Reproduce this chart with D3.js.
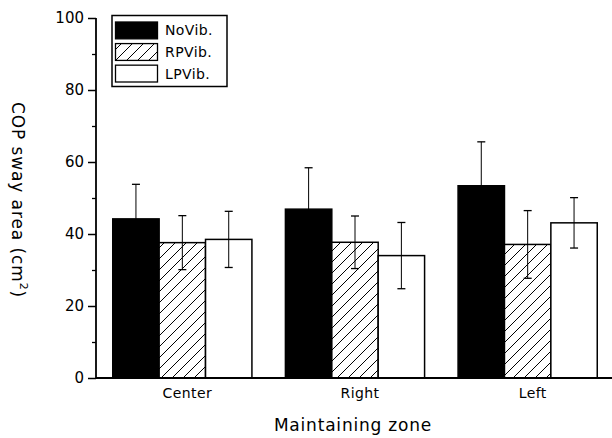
<!DOCTYPE html>
<html>
<head>
<meta charset="utf-8">
<script src="https://cdn.jsdelivr.net/npm/d3@7"></script>
<style>
  html, body { margin: 0; padding: 0; background: #fff; }
  svg { display: block; }
  text { font-family: "DejaVu Sans", sans-serif; fill: #000; }
</style>
</head>
<body>
<script>
const categories = ["Center", "Right", "Left"];
const seriesNames = ["NoVib.", "RPVib.", "LPVib."];
const noVibMean = [44.2, 46.9, 53.4];
const noVibSD   = [9.6, 11.5, 12.2];
const rpVibMean = [37.6, 37.7, 37.1];
const rpVibSD   = [7.5, 7.3, 9.4];
const lpVibMean = [38.5, 34.0, 43.1];
const lpVibSD   = [7.8, 9.2, 7.0];
const yMajorTicks = [0, 20, 40, 60, 80, 100];
const yMinorTicks = [10, 30, 50, 70, 90];
const xTitle = "Maintaining zone";
const yTitle = "COP sway area (cm";

const W = 612, H = 438;
const svg = d3.select("body").append("svg").attr("width", W).attr("height", H);

const defs = svg.append("defs");
const pat = defs.append("pattern").attr("id", "hatch").attr("patternUnits", "userSpaceOnUse")
  .attr("width", 11).attr("height", 11);
pat.append("rect").attr("width", 11).attr("height", 11).attr("fill", "#fff");
pat.append("path").attr("d", "M-1,12 L12,-1 M-6,6 L6,-6 M5,17 L17,5")
  .attr("stroke", "#000").attr("stroke-width", 1);

const fills = ["#000", "url(#hatch)", "#fff"];
const means = [noVibMean, rpVibMean, lpVibMean];
const sds = [noVibSD, rpVibSD, lpVibSD];

const y = d3.scaleLinear().domain([0, 100]).range([378, 18]);
const x0 = d3.scaleBand().domain(categories).range([96, 614]).paddingInner(0.194).paddingOuter(0.097);
const x1 = d3.scaleBand().domain(seriesNames).range([0, x0.bandwidth()]).padding(0);

const data = [];
categories.forEach((c, ci) => {
  seriesNames.forEach((s, si) => {
    data.push({ c, s, si, v: means[si][ci], sd: sds[si][ci] });
  });
});

// bars
const g = svg.append("g");
g.selectAll("rect.bar").data(data).enter().append("rect")
  .attr("class", "bar")
  .attr("x", d => x0(d.c) + x1(d.s))
  .attr("y", d => y(d.v))
  .attr("width", x1.bandwidth())
  .attr("height", d => y(0) - y(d.v))
  .attr("fill", d => fills[d.si])
  .attr("stroke", "#000").attr("stroke-width", 1.5);

// error bars
const eb = g.selectAll("g.eb").data(data).enter().append("g").attr("class", "eb");
const cx = d => x0(d.c) + x1(d.s) + x1.bandwidth() / 2;
eb.append("line").attr("x1", cx).attr("x2", cx)
  .attr("y1", d => y(d.v + d.sd)).attr("y2", d => y(d.v - d.sd))
  .attr("stroke", "#000").attr("stroke-width", 1);
eb.append("line").attr("x1", d => cx(d) - 4).attr("x2", d => cx(d) + 4)
  .attr("y1", d => y(d.v + d.sd)).attr("y2", d => y(d.v + d.sd))
  .attr("stroke", "#000").attr("stroke-width", 1.3);
eb.append("line").attr("x1", d => cx(d) - 4).attr("x2", d => cx(d) + 4)
  .attr("y1", d => y(d.v - d.sd)).attr("y2", d => y(d.v - d.sd))
  .attr("stroke", "#000").attr("stroke-width", 1.3);

// y axis
const yAxis = d3.axisLeft(y).tickValues(yMajorTicks).tickSize(8).tickPadding(4).tickFormat(d3.format("d"));
const ya = svg.append("g").attr("transform", "translate(96,0)").call(yAxis);
ya.select(".domain").attr("stroke-width", 1.8).attr("d", `M0,${y(100)}V${y(0)}`);
ya.selectAll(".tick line").attr("stroke-width", 1.5);
ya.selectAll(".tick text").style("font-size", "15px").attr("font-family", "DejaVu Sans");
const yMinor = d3.axisLeft(y).tickValues(yMinorTicks).tickSize(4).tickFormat("");
const ym = svg.append("g").attr("transform", "translate(96,0)").call(yMinor);
ym.select(".domain").remove();
ym.selectAll(".tick line").attr("stroke-width", 1.3);

// x axis
const xAxis = d3.axisBottom(x0).tickSize(0).tickPadding(10);
const xa = svg.append("g").attr("transform", `translate(0,${y(0)})`).call(xAxis);
xa.select(".domain").attr("d", `M96,0H612`).attr("stroke-width", 1.8);
xa.selectAll(".tick text").style("font-size", "14px").style("letter-spacing", "0.4px")
  .attr("dx", 5).attr("dy", "0.72em");

// axis titles
svg.append("text").attr("x", 353).attr("y", 431).attr("text-anchor", "middle")
  .style("font-size", "17px").style("letter-spacing", "0.8px").text(xTitle);
const yt = svg.append("text").attr("transform", "translate(12,200) rotate(90)")
  .attr("text-anchor", "middle").style("font-size", "17px").style("letter-spacing", "0.9px");
yt.append("tspan").text(yTitle);
yt.append("tspan").attr("dy", -8).style("font-size", "11px").text("2");
yt.append("tspan").attr("dy", 8).text(")");

// legend
const leg = svg.append("g");
leg.append("rect").attr("x", 112).attr("y", 15.5).attr("width", 115).attr("height", 71)
  .attr("fill", "#fff").attr("stroke", "#000").attr("stroke-width", 1.5);
const ly = d3.scaleBand().domain(seriesNames).range([22, 82]).paddingInner(0.22);
seriesNames.forEach((s, i) => {
  leg.append("rect").attr("x", 115.5).attr("y", ly(s)).attr("width", 42).attr("height", ly.bandwidth())
    .attr("fill", fills[i]).attr("stroke", "#000").attr("stroke-width", 1.3);
  leg.append("text").attr("x", 165).attr("y", ly(s) + ly.bandwidth() / 2).attr("dy", "0.36em")
    .style("font-size", "14px").style("letter-spacing", "0.4px").text(s);
});
</script>
</body>
</html>
